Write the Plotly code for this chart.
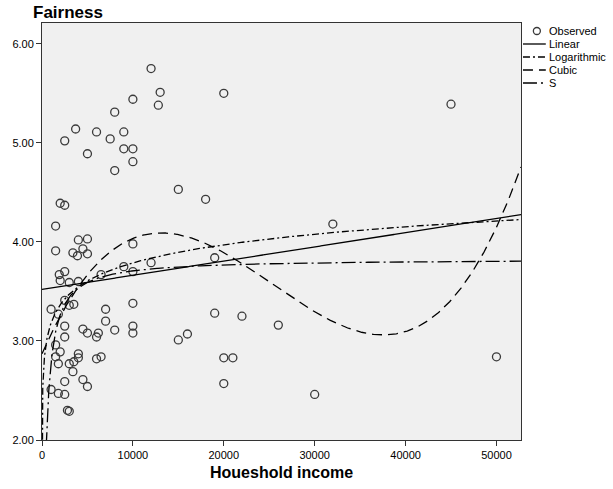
import numpy as np
import plotly.graph_objects as go

# ---- data ----
income = [12000, 13000, 10000, 12800, 8000, 6000, 7500, 9000, 9000, 10000,
          10000, 8000, 15000, 18000, 10000, 3700, 2500, 5000, 20000, 45000,
          32000, 50000,
          2000, 2500, 1500, 4000, 5000, 1500, 3400, 3900, 4500, 5000,
          1900, 2500, 2000, 3000, 4000, 2500, 3500, 3000, 1000, 1800,
          2500, 4500, 5000, 2500, 1500, 1500, 2000, 1800, 3000, 4000,
          4000, 3500, 3400, 2500, 4500, 5000, 1000, 1800, 2500, 2800, 3000,
          6500, 9000, 10000, 10000, 7000, 7000, 10000, 10000, 6200, 6000,
          8000, 6000, 6500, 12000, 19000,
          19000, 22000, 26000, 16000, 15000, 20000, 21000, 20000, 30000]
fairness = [5.75, 5.51, 5.44, 5.38, 5.31, 5.11, 5.04, 5.11, 4.94, 4.94,
            4.81, 4.72, 4.53, 4.43, 3.98, 5.14, 5.02, 4.89, 5.50, 5.39,
            4.18, 2.84,
            4.39, 4.37, 4.16, 4.02, 4.03, 3.91, 3.89, 3.86, 3.93, 3.88,
            3.67, 3.70, 3.61, 3.59, 3.60, 3.41, 3.37, 3.36, 3.32, 3.27,
            3.15, 3.12, 3.08, 3.04, 2.96, 2.84, 2.89, 2.77, 2.77, 2.87,
            2.83, 2.79, 2.69, 2.59, 2.61, 2.54, 2.51, 2.47, 2.46, 2.30, 2.29,
            3.67, 3.75, 3.70, 3.38, 3.32, 3.20, 3.15, 3.08, 3.08, 3.04,
            3.11, 2.82, 2.84, 3.79, 3.84,
            3.28, 3.25, 3.16, 3.07, 3.01, 2.83, 2.83, 2.57, 2.46]

x_ticks = [0, 10000, 20000, 30000, 40000, 50000]
y_ticks = [2.0, 3.0, 4.0, 5.0, 6.0]
legend_labels = ["Observed", "Linear", "Logarithmic", "Cubic", "S"]
x_title = "Houeshold income"
chart_title = "Fairness"
x_max = 52700
y_range = [2.0, 6.21]

# ---- curve estimation (fits computed from the data) ----
X = np.array(income, dtype=float)
Y = np.array(fairness, dtype=float)

lin = np.polyfit(X, Y, 1)
logc = np.polyfit(np.log(X), Y, 1)
cub = np.polyfit(X / 10000.0, Y, 3)
sc = np.polyfit(1.0 / X, np.log(Y), 1)

xs = np.linspace(0, x_max, 800)
xs_log = np.concatenate([np.geomspace(0.2, 3000, 400), np.linspace(3000, x_max, 500)[1:]])

y_lin = np.polyval(lin, xs)
y_cub = np.polyval(cub, xs / 10000.0)
y_log = np.polyval(logc, np.log(xs_log))
y_s = np.exp(np.polyval(sc, 1.0 / xs_log))

FONT = "Liberation Sans, Arial, sans-serif"
LINE_W = 1.3
DASH_LOG = "7px,3px,2px,3px"
DASH_CUB = "10px,6px"
DASH_S = "14px,4px,2px,4px"

fig = go.Figure()
fig.add_trace(go.Scatter(x=income, y=fairness, mode="markers", name=legend_labels[0],
                         marker=dict(symbol="circle-open", size=8, color="#3a3a3a",
                                     line=dict(width=1.3, color="#3a3a3a"))))
fig.add_trace(go.Scatter(x=xs, y=y_lin, mode="lines", name=legend_labels[1],
                         line=dict(color="black", width=LINE_W)))
fig.add_trace(go.Scatter(x=xs_log, y=y_log, mode="lines", name=legend_labels[2],
                         line=dict(color="black", width=LINE_W, dash=DASH_LOG)))
fig.add_trace(go.Scatter(x=xs, y=y_cub, mode="lines", name=legend_labels[3],
                         line=dict(color="black", width=LINE_W, dash=DASH_CUB)))
fig.add_trace(go.Scatter(x=xs_log, y=y_s, mode="lines", name=legend_labels[4],
                         line=dict(color="black", width=LINE_W, dash=DASH_S)))

# plot area in pixels: left 38, right 521, top 23, bottom 440
L, R, T, B = 38, 521, 23, 440
PW, PH = R - L, B - T


def px(xp):
    return (xp - L) / PW


def py(yp):
    return (B - yp) / PH


annotations = [
    dict(text=chart_title, x=px(27), y=py(12.5), xref="paper", yref="paper",
         xanchor="left", yanchor="middle", showarrow=False,
         font=dict(family=FONT, size=17, color="black", weight="bold")),
    dict(text=x_title, x=0.5, y=py(472), xref="paper", yref="paper",
         xanchor="center", yanchor="middle", showarrow=False,
         font=dict(family=FONT, size=16, color="black", weight="bold")),
]

shapes = []
leg_y = [31, 44, 57, 70, 83]
text_x = 547
for i, lab in enumerate(legend_labels):
    annotations.append(dict(text=lab, x=px(text_x), y=py(leg_y[i]), xref="paper", yref="paper",
                            xanchor="left", yanchor="middle", showarrow=False,
                            font=dict(family=FONT, size=11, color="black")))
shapes.append(dict(type="circle", xref="paper", yref="paper", xsizemode="pixel", ysizemode="pixel",
                   xanchor=px(537), yanchor=py(leg_y[0]), x0=-3.5, x1=3.5, y0=-3.5, y1=3.5,
                   line=dict(color="#3a3a3a", width=1.3)))
dashes = [None, "solid", DASH_LOG, DASH_CUB, DASH_S]
for i in range(1, 5):
    shapes.append(dict(type="line", xref="paper", yref="paper",
                       x0=px(523), x1=px(546), y0=py(leg_y[i]), y1=py(leg_y[i]),
                       line=dict(color="black", width=LINE_W, dash=dashes[i])))

fig.update_layout(
    width=613, height=489,
    margin=dict(l=L, r=613 - R, t=T, b=489 - B, pad=0),
    paper_bgcolor="white", plot_bgcolor="#f0f0f0",
    showlegend=False,
    font=dict(family=FONT, size=11, color="black"),
    annotations=annotations, shapes=shapes,
    xaxis=dict(range=[0, x_max], tickvals=x_ticks, tickformat="d", ticks="outside",
               ticklen=5, tickcolor="#333", showgrid=False, zeroline=False,
               showline=True, mirror=True, linecolor="#333", linewidth=1,
               tickfont=dict(family=FONT, size=11, color="black")),
    yaxis=dict(range=y_range, tickvals=y_ticks, tickformat=".2f", ticks="outside",
               ticklen=5, tickcolor="#333", showgrid=False, zeroline=False,
               showline=True, mirror=True, linecolor="#333", linewidth=1,
               tickfont=dict(family=FONT, size=11, color="black")),
)

fig.write_html("out.html",
               config={"displayModeBar": False},
               post_script="document.body.style.margin='0';document.body.style.padding='0';"
                           "document.documentElement.style.overflow='hidden';")
